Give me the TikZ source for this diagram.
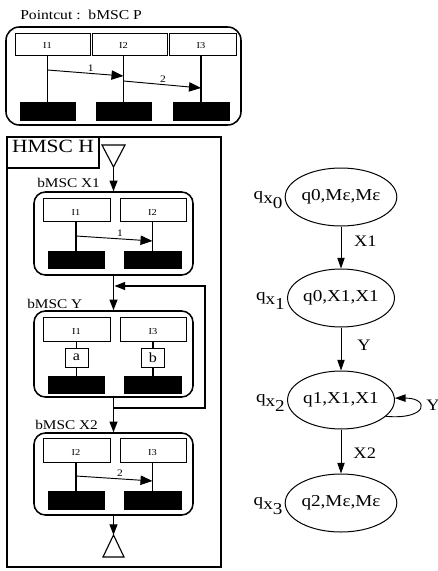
\documentclass[tikz,border=0pt]{standalone}
\usepackage{fontspec}
\setmainfont{Liberation Serif}[FakeStretch=1.15]
\usetikzlibrary{arrows.meta,shapes.geometric,fit}
\tikzset{
  msc/.style={draw, rounded corners=8.5pt, line width=1.15pt, inner sep=0pt},
  inst/.style={draw, line width=0.75pt, inner sep=0pt},
  blk/.style={fill=black, draw=black, inner sep=0pt},
  frame/.style={draw, line width=0.95pt, inner sep=0pt},
  life/.style={line width=0.9pt},
  itext/.style={font=\fontsize{6.8pt}{7pt}\selectfont, inner sep=0pt},
  mlbl/.style={font=\fontsize{7.5pt}{8pt}\selectfont, inner sep=1.2pt},
  evt/.style={draw, line width=0.75pt, inner sep=0pt},
  blbl/.style={font=\fontsize{10pt}{11pt}\selectfont, inner sep=0pt, anchor=west},
  farr/.style={line width=0.9pt, -{Triangle[length=8pt,width=6pt]}},
  msgarr/.style={line width=0.7pt, -{Triangle[length=9pt,width=7pt]}},
  garr/.style={line width=0.7pt, -{Triangle[length=8pt,width=5.5pt]}},
  st/.style={draw, ellipse, minimum width=92*0.75pt, minimum height=58*0.75pt, inner sep=0pt, line width=0.75pt, font=\fontsize{12.5pt}{13pt}\selectfont},
  qlbl/.style={anchor=base east, inner sep=0pt, font=\fontsize{12.5pt}{13pt}\selectfont},
  elbl/.style={anchor=west, inner sep=0pt, font=\fontsize{12pt}{13pt}\selectfont},
}
\begin{document}
\begin{tikzpicture}[x=0.75pt,y=-0.75pt]
\useasboundingbox (0,0) rectangle (438,571);

% ---------- Pointcut bMSC P ----------
\node[anchor=west, inner sep=0pt, font=\fontsize{10.2pt}{12pt}\selectfont] (ptitle) at (20,15) {Pointcut :~~bMSC P};
\node[msc, rounded corners=10pt, fit={(6,27) (241,125)}] (P) {};
\node[inst, fit={(15,33) (90,55)}] (PI1) {};
\node[inst, fit={(92,33) (167,55)}] (PI2) {};
\node[inst, fit={(169,33) (236,55)}] (PI3) {};
\node[blk, fit={(20,102) (75,120)}] (PB1) {};
\node[blk, fit={(96,102) (151,120)}] (PB2) {};
\node[blk, fit={(173,102) (229,120)}] (PB3) {};
\draw[life] (PB1.north |- PI1.south) -- (PB1.north);
\draw[life] (PB2.north |- PI2.south) -- (PB2.north);
\draw[life] (PB3.north |- PI3.south) -- (PB3.north);
\node[itext, yshift=-1pt] (PT1) at (PB1.north |- PI1.center) {I1};
\node[itext, yshift=-1pt] (PT2) at (PB2.north |- PI2.center) {I2};
\node[itext, yshift=-1pt] (PT3) at (PB3.north |- PI3.center) {I3};
\coordinate (Pm1a) at (47.5,70);
\coordinate (Pm1b) at (123.5,76);
\coordinate (Pm2a) at (123.5,81);
\coordinate (Pm2b) at (201,88);
\draw[msgarr] (Pm1a) -- (Pm1b) node[mlbl, pos=0.57, above] (Pl1) {1};
\draw[msgarr] (Pm2a) -- (Pm2b) node[mlbl, pos=0.51, above] (Pl2) {2};

% ---------- HMSC H ----------
\node[frame, fit={(7,137) (221,567)}] (H) {};
\node[frame, fit={(7,137) (99,168)}, font=\fontsize{14pt}{15pt}\selectfont] (HL) {HMSC H};
\draw[line width=0.85pt] (102,145) -- (125,145) -- (113.5,167) -- cycle;
\coordinate (S) at (113.5,167);

% bMSC X1
\node[blbl] (X1L) at (37,183) {bMSC X1};
\node[msc, fit={(34,192) (193,275)}] (X1) {};
\node[inst, fit={(43,198) (110,221)}] (X1I1) {};
\node[inst, fit={(120,198) (186,221)}] (X1I2) {};
\node[blk, fit={(48,251) (104,268)}] (X1B1) {};
\node[blk, fit={(124,251) (181,268)}] (X1B2) {};
\draw[life] (X1B1.north |- X1I1.south) -- (X1B1.north);
\draw[life] (X1B2.north |- X1I2.south) -- (X1B2.north);
\node[itext, yshift=-2pt] (X1T1) at (X1B1.north |- X1I1.center) {I1};
\node[itext, yshift=-2pt] (X1T2) at (X1B2.north |- X1I2.center) {I2};
\coordinate (X1ma) at (76,236);
\coordinate (X1mb) at (152.5,241);
\draw[msgarr] (X1ma) -- (X1mb) node[mlbl, pos=0.575, above] (X1l) {1};

% bMSC Y
\node[blbl] (YL) at (27,304) {bMSC Y};
\node[msc, fit={(34,311) (193,397)}] (Y) {};
\node[inst, fit={(43,317) (110,341)}] (YI1) {};
\node[inst, fit={(120,317) (186,341)}] (YI3) {};
\node[blk, fit={(48,376) (104,393)}] (YB1) {};
\node[blk, fit={(124,376) (181,393)}] (YB3) {};
\node[evt, fit={(65,348) (88,367)}] (Ya) {};
\node[evt, fit={(141.5,348) (164.5,367)}] (Yb) {};
\node[inner sep=0pt, font=\fontsize{10.5pt}{11pt}\selectfont] (Yat) at (Ya.center) {a};
\node[inner sep=0pt, font=\fontsize{10.5pt}{11pt}\selectfont] (Ybt) at (Yb.center) {b};
\draw[life] (Ya.north |- YI1.south) -- (Ya.north);
\draw[life] (Ya.south) -- (Ya.south |- YB1.north);
\draw[life] (Yb.north |- YI3.south) -- (Yb.north);
\draw[life] (Yb.south) -- (Yb.south |- YB3.north);
\node[itext, yshift=-2pt] (YT1) at (Ya.north |- YI1.center) {I1};
\node[itext, yshift=-2pt] (YT3) at (Yb.north |- YI3.center) {I3};

% bMSC X2
\node[blbl] (X2L) at (35,425) {bMSC X2};
\node[msc, fit={(34,433) (193,515)}] (X2) {};
\node[inst, fit={(43,438) (110,462)}] (X2I2) {};
\node[inst, fit={(120,438) (186,462)}] (X2I3) {};
\node[blk, fit={(48,491) (104,509)}] (X2B2) {};
\node[blk, fit={(124,491) (181,509)}] (X2B3) {};
\draw[life] (X2B2.north |- X2I2.south) -- (X2B2.north);
\draw[life] (X2B3.north |- X2I3.south) -- (X2B3.north);
\node[itext, yshift=-2pt] (X2T2) at (X2B2.north |- X2I2.center) {I2};
\node[itext, yshift=-2pt] (X2T3) at (X2B3.north |- X2I3.center) {I3};
\coordinate (X2ma) at (76,476);
\coordinate (X2mb) at (152.5,481);
\draw[msgarr] (X2ma) -- (X2mb) node[mlbl, pos=0.575, above] (X2l) {2};

% end triangle
\draw[line width=0.85pt] (113.5,535) -- (103,557) -- (124,557) -- cycle;
\coordinate (E) at (113.5,535);

% HMSC connectors
\draw[farr] (S) -- (X1.north);
\draw[farr] (X1.south) -- (Y.north);
\draw[farr] (Y.south) -- (X2.north);
\draw[farr] (X2.south) -- (E);
\coordinate (La) at (113.5,408);
\coordinate (Lb) at (114.5,286);
\coordinate (Lc) at (205,347);
\draw[farr] (La) -| (Lc) |- (Lb);

% ---------- state graph ----------
\node[st] (q0) at (341,197) {q0,Mε,Mε};
\node[st] (q1) at (341,298) {q0,X1,X1};
\node[st] (q2) at (341,400) {q1,X1,X1};
\node[st] (q3) at (341,503) {q2,Mε,Mε};
\node[qlbl] (lq0) at ([xshift=-1.5pt,yshift=-1.5pt]q0.west) {q\raisebox{-3.5pt}{x\raisebox{-3.5pt}{0}}};
\node[qlbl] (lq1) at ([xshift=-1.5pt,yshift=-1.5pt]q1.west) {q\raisebox{-3.5pt}{x\raisebox{-3.5pt}{1}}};
\node[qlbl] (lq2) at ([xshift=-1.5pt,yshift=-1.5pt]q2.west) {q\raisebox{-3.5pt}{x\raisebox{-3.5pt}{2}}};
\node[qlbl] (lq3) at ([xshift=-1.5pt,yshift=-1.5pt]q3.west) {q\raisebox{-3.5pt}{x\raisebox{-3.5pt}{3}}};
\draw[garr] (q0) -- (q1) node[elbl, pos=0.35, xshift=9.5pt] (e01) {X1};
\draw[garr] (q1) -- (q2) node[elbl, pos=0.41, xshift=12pt] (e12) {Y};
\draw[garr] (q2) -- (q3) node[elbl, pos=0.53, xshift=9pt] (e23) {X2};
\draw[garr] (q2.-20) .. controls (428,420) and (430,398) .. (q2.2);
\node[elbl] (e22) at (426,405) {Y};
\end{tikzpicture}
\end{document}
